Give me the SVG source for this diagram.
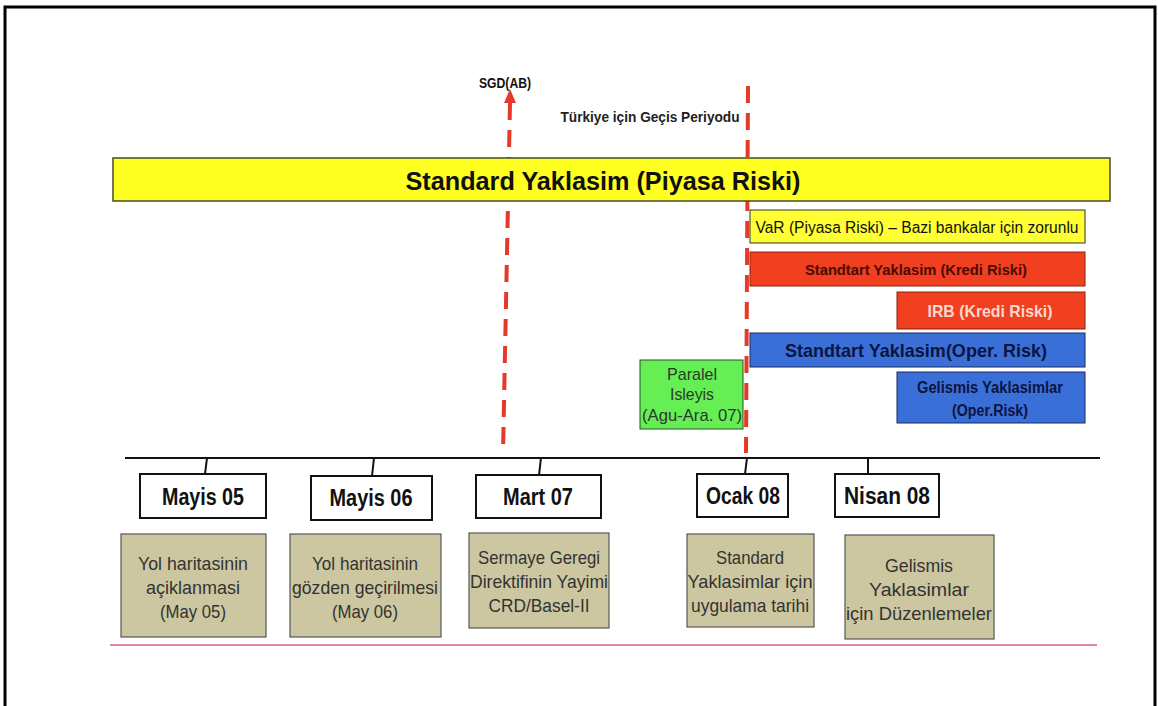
<svg xmlns="http://www.w3.org/2000/svg" width="1158" height="706" viewBox="0 0 1158 706">
<style>
text{font-family:"Liberation Sans",Arial,sans-serif;text-anchor:middle}
.bar{stroke:#4a4a2a;stroke-width:1.5}
.date{fill:#fff;stroke:#111;stroke-width:2}
.dt{font-size:23px;font-weight:bold;fill:#111}
.olive{fill:#ccc7a0;stroke:#555;stroke-width:1.2}
.ot{font-size:19px;fill:#333}
.dash{stroke:#e5392a;stroke-width:4;stroke-dasharray:17 10;fill:none}
.tick{stroke:#111;stroke-width:2}
</style>
<rect width="1158" height="706" fill="#fff"/>
<path d="M5 706V7H1155V706" fill="none" stroke="#000" stroke-width="3"/>

<g id="connectors">
<path class="dash" d="M510 103L503 453"/>
<path d="M504 103L516 103L510 89Z" fill="#e5392a"/>
<path class="dash" d="M748 86L746 453"/>
<line x1="125" y1="458" x2="1100" y2="458" stroke="#111" stroke-width="2"/>
<line class="tick" x1="207" y1="458" x2="205" y2="474"/>
<line class="tick" x1="374" y1="458" x2="372" y2="476"/>
<line class="tick" x1="541" y1="458" x2="539" y2="475"/>
<line class="tick" x1="747" y1="458" x2="745" y2="474"/>
<line class="tick" x1="868" y1="458" x2="868" y2="474"/>
<line x1="110" y1="645" x2="1097" y2="645" stroke="#d06080" stroke-width="1.5"/>
</g>

<g id="label-sgd"><text x="505" y="88" font-size="15" font-weight="bold" textLength="52" lengthAdjust="spacingAndGlyphs" fill="#111">SGD(AB)</text></g>
<g id="label-gecis"><text x="650" y="122" font-size="14" font-weight="bold" textLength="179" lengthAdjust="spacingAndGlyphs" fill="#222">Türkiye için Geçis Periyodu</text></g>

<g id="standard-bar">
<rect class="bar" x="113" y="158" width="997" height="43" fill="#ffff22"/>
<text x="603" y="190" font-size="26" font-weight="bold" textLength="395" lengthAdjust="spacingAndGlyphs" fill="#111">Standard Yaklasim (Piyasa Riski)</text>
</g>

<g id="var">
<rect x="750" y="210" width="335" height="33" fill="#ffff33" stroke="#333" stroke-width="1"/>
<text x="917" y="233" font-size="16" textLength="323" lengthAdjust="spacingAndGlyphs" fill="#111">VaR (Piyasa Riski) – Bazi bankalar için zorunlu</text>
</g>

<g id="std-kredi">
<rect x="750" y="252" width="335" height="34" fill="#f0401f" stroke="#8a2010" stroke-width="1"/>
<text x="916" y="275" font-size="15" font-weight="bold" textLength="222" lengthAdjust="spacingAndGlyphs" fill="#4a0a05">Standtart Yaklasim (Kredi Riski)</text>
</g>

<g id="irb">
<rect x="897" y="292" width="188" height="37" fill="#f0401f" stroke="#8a2010" stroke-width="1"/>
<text x="990" y="317" font-size="17" font-weight="bold" textLength="125" lengthAdjust="spacingAndGlyphs" fill="#f8d8d0">IRB (Kredi Riski)</text>
</g>

<g id="std-oper">
<rect x="750" y="333" width="335" height="34" fill="#3a6fd8" stroke="#1a2a60" stroke-width="1"/>
<text x="916" y="357" font-size="19" font-weight="bold" textLength="262" lengthAdjust="spacingAndGlyphs" fill="#0a1540">Standtart Yaklasim(Oper. Risk)</text>
</g>

<g id="gelismis-oper">
<rect x="897" y="372" width="188" height="51" fill="#3a6fd8" stroke="#1a2a60" stroke-width="1"/>
<text x="990" y="393" font-size="16" font-weight="bold" textLength="146" lengthAdjust="spacingAndGlyphs" fill="#0a1540">Gelismis Yaklasimlar</text>
<text x="990" y="416" font-size="16" font-weight="bold" textLength="76" lengthAdjust="spacingAndGlyphs" fill="#0a1540">(Oper.Risk)</text>
</g>

<g id="paralel">
<rect x="640" y="360" width="103" height="69" fill="#66ee55" stroke="#225522" stroke-width="1"/>
<text x="692" y="380" font-size="17" textLength="50" lengthAdjust="spacingAndGlyphs" fill="#2a3a2a">Paralel</text>
<text x="692" y="400" font-size="17" textLength="44" lengthAdjust="spacingAndGlyphs" fill="#2a3a2a">Isleyis</text>
<text x="692" y="421" font-size="17" textLength="100" lengthAdjust="spacingAndGlyphs" fill="#2a3a2a">(Agu-Ara. 07)</text>
</g>

<g id="mayis05"><rect class="date" x="140" y="474" width="126" height="44"/><text class="dt" x="203" y="505" textLength="82" lengthAdjust="spacingAndGlyphs">Mayis 05</text></g>
<g id="mayis06"><rect class="date" x="311" y="476" width="121" height="44"/><text class="dt" x="371" y="506" textLength="83" lengthAdjust="spacingAndGlyphs">Mayis 06</text></g>
<g id="mart07"><rect class="date" x="476" y="475" width="125" height="43"/><text class="dt" x="538" y="505" textLength="70" lengthAdjust="spacingAndGlyphs">Mart 07</text></g>
<g id="ocak08"><rect class="date" x="697" y="474" width="91" height="43"/><text class="dt" x="743" y="504" textLength="74" lengthAdjust="spacingAndGlyphs">Ocak 08</text></g>
<g id="nisan08"><rect class="date" x="835" y="474" width="104" height="43"/><text class="dt" x="887" y="504" textLength="86" lengthAdjust="spacingAndGlyphs">Nisan 08</text></g>

<g id="desc1"><rect class="olive" x="121" y="534" width="145" height="103"/>
<text class="ot" x="193" y="570" textLength="110" lengthAdjust="spacingAndGlyphs">Yol haritasinin</text><text class="ot" x="193" y="594" textLength="94" lengthAdjust="spacingAndGlyphs">açiklanmasi</text><text class="ot" x="193" y="618" textLength="66" lengthAdjust="spacingAndGlyphs">(May 05)</text></g>
<g id="desc2"><rect class="olive" x="290" y="534" width="151" height="103"/>
<text class="ot" x="365" y="570" textLength="106" lengthAdjust="spacingAndGlyphs">Yol haritasinin</text><text class="ot" x="365" y="594" textLength="146" lengthAdjust="spacingAndGlyphs">gözden geçirilmesi</text><text class="ot" x="365" y="618" textLength="66" lengthAdjust="spacingAndGlyphs">(May 06)</text></g>
<g id="desc3"><rect class="olive" x="469" y="533" width="140" height="95"/>
<text class="ot" x="539" y="564" textLength="122" lengthAdjust="spacingAndGlyphs">Sermaye Geregi</text><text class="ot" x="539" y="588" textLength="138" lengthAdjust="spacingAndGlyphs">Direktifinin Yayimi</text><text class="ot" x="539" y="612" textLength="101" lengthAdjust="spacingAndGlyphs">CRD/Basel-II</text></g>
<g id="desc4"><rect class="olive" x="687" y="534" width="127" height="93"/>
<text class="ot" x="750" y="564" textLength="68" lengthAdjust="spacingAndGlyphs">Standard</text><text class="ot" x="750" y="588" textLength="125" lengthAdjust="spacingAndGlyphs">Yaklasimlar için</text><text class="ot" x="750" y="612" textLength="118" lengthAdjust="spacingAndGlyphs">uygulama tarihi</text></g>
<g id="desc5"><rect class="olive" x="845" y="535" width="149" height="104"/>
<text class="ot" x="919" y="572" textLength="68" lengthAdjust="spacingAndGlyphs">Gelismis</text><text class="ot" x="919" y="596" textLength="100" lengthAdjust="spacingAndGlyphs">Yaklasimlar</text><text class="ot" x="919" y="620" textLength="146" lengthAdjust="spacingAndGlyphs">için Düzenlemeler</text></g>
</svg>
